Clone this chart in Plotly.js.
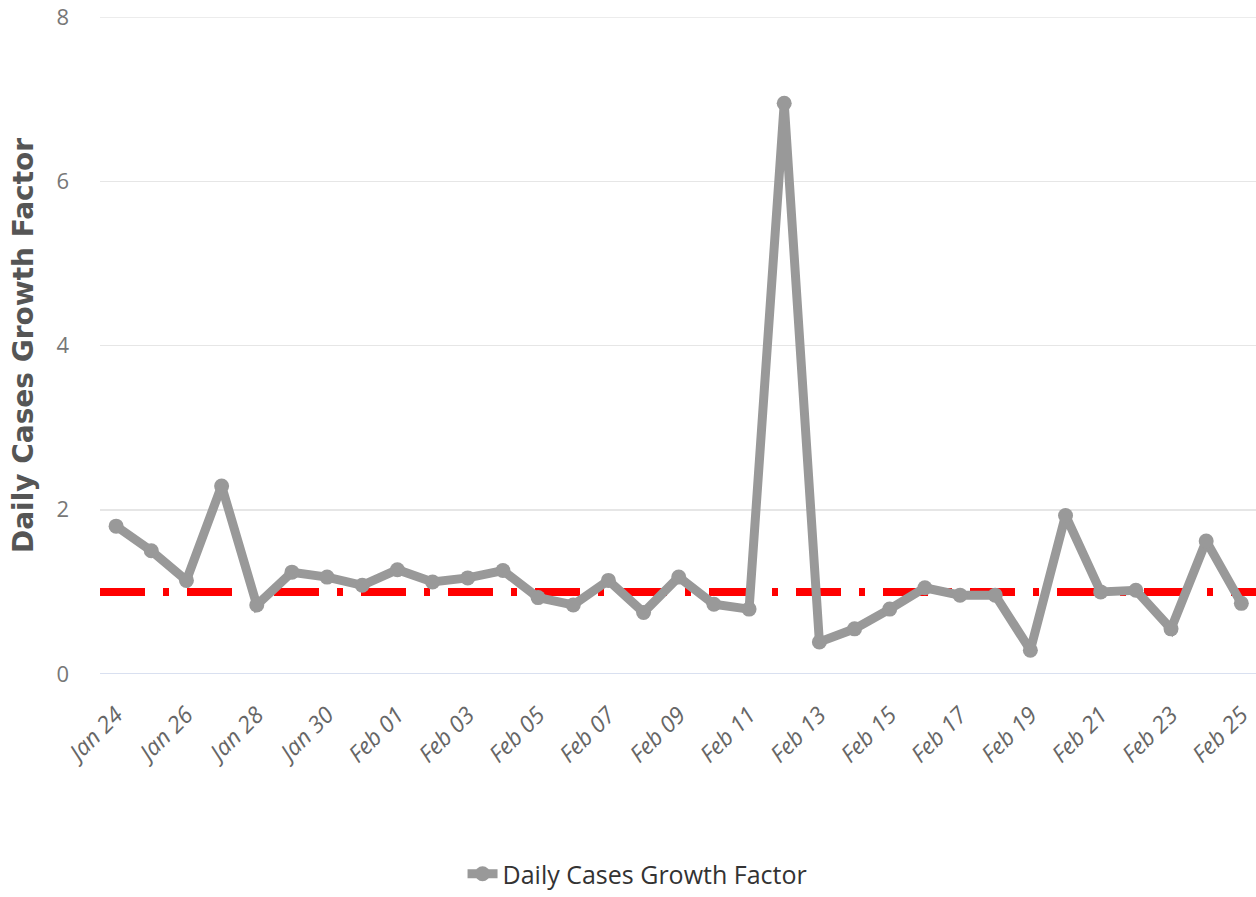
<!DOCTYPE html>
<html>
<head>
<meta charset="utf-8">
<script src="https://cdn.plot.ly/plotly-3.0.1.min.js"></script>
<style>
  html, body { margin: 0; padding: 0; background: #fff; }
  #chart { width: 1256px; height: 897px; }
</style>
</head>
<body>
<div id="chart"></div>
<script>
// daily growth factor, Jan 24 .. Feb 25 (2020)
const dates = [
    '2020-01-24', '2020-01-25', '2020-01-26', '2020-01-27', '2020-01-28', '2020-01-29',
    '2020-01-30', '2020-01-31', '2020-02-01', '2020-02-02', '2020-02-03', '2020-02-04',
    '2020-02-05', '2020-02-06', '2020-02-07', '2020-02-08', '2020-02-09', '2020-02-10',
    '2020-02-11', '2020-02-12', '2020-02-13', '2020-02-14', '2020-02-15', '2020-02-16',
    '2020-02-17', '2020-02-18', '2020-02-19', '2020-02-20', '2020-02-21', '2020-02-22',
    '2020-02-23', '2020-02-24', '2020-02-25'
];
const growthFactor = [
    1.80, 1.50, 1.14, 2.29, 0.84, 1.24,
    1.18, 1.08, 1.27, 1.12, 1.17, 1.26,
    0.93, 0.84, 1.14, 0.75, 1.18, 0.85,
    0.79, 6.95, 0.39, 0.55, 0.79, 1.05,
    0.96, 0.96, 0.29, 1.93, 1.00, 1.02,
    0.55, 1.62, 0.86
];
const baseline = 1;
const yTicks = [0, 2, 4, 6, 8];

// every second day gets a label
const xTicks = dates.filter((d, i) => i % 2 === 0);

const tickFont = "'Liberation Sans Narrow', 'Open Sans', sans-serif";

const traces = [{
    type: 'scatter',
    mode: 'lines+markers',
    x: dates,
    y: growthFactor,
    name: 'Daily Cases Growth Factor',
    line: { color: '#999999', width: 9 },
    marker: { color: '#999999', size: 15, symbol: 'circle' },
    showlegend: true
}];

const layout = {
    width: 1256,
    height: 897,
    margin: { l: 100, r: 0, t: 17, b: 220 },
    paper_bgcolor: '#ffffff',
    plot_bgcolor: '#ffffff',
    xaxis: {
        type: 'date',
        range: ['2020-01-23 13:00', '2020-02-25 10:00'],
        tickmode: 'array',
        tickvals: xTicks,
        tickformat: '%b %d',
        tickangle: -45,
        tickfont: { family: tickFont, size: 23, color: '#666666', style: 'italic' },
        ticklabelstandoff: 22,
        ticklabeloverflow: 'allow',
        showgrid: false,
        zeroline: false,
        showline: false,
        ticks: '',
        fixedrange: true
    },
    yaxis: {
        range: [0, 8],
        tickvals: yTicks,
        tickfont: { family: tickFont, size: 22, color: '#777777' },
        ticklabelstandoff: 30,
        gridcolor: '#e6e6e6',
        gridwidth: 1.5,
        zeroline: false,
        showline: false,
        title: {
            text: 'Daily Cases Growth Factor',
            font: { family: "'DejaVu Sans', sans-serif", size: 28, color: '#555555', weight: 'bold' },
            standoff: 14
        }
    },
    shapes: [
        {
            type: 'line', xref: 'paper', yref: 'y',
            x0: 0, x1: 1, y0: 0, y1: 0,
            line: { color: '#ccd6eb', width: 1.5 },
            layer: 'below'
        },
        {
            type: 'line', xref: 'paper', yref: 'y',
            x0: 0, x1: 1, y0: 8, y1: 8,
            line: { color: '#e6e6e6', width: 1.5 },
            layer: 'below'
        },
        {
            type: 'line', xref: 'paper', yref: 'y',
            x0: 0, x1: 1, y0: baseline, y1: baseline,
            line: { color: '#ff0000', width: 8, dash: '45px,18px,6px,18px' },
            layer: 'below'
        }
    ],
    showlegend: true,
    legend: {
        orientation: 'h',
        x: 0.465,
        xanchor: 'center',
        y: -0.305,
        yanchor: 'middle',
        font: { family: tickFont, size: 25, color: '#333333' },
        itemwidth: 30
    }
};

Plotly.newPlot('chart', traces, layout, { displayModeBar: false, staticPlot: true });
</script>
</body>
</html>
